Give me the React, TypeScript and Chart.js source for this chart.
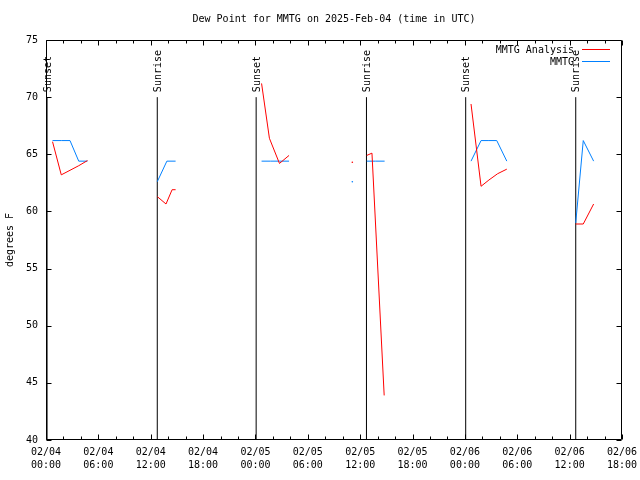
import React, { useEffect, useRef } from 'react';
import { Chart, registerables } from 'chart.js';

Chart.register(...registerables);

const FONT = "'DejaVu Sans Mono', 'Liberation Mono', monospace";

// ---- text ----
const chartTitle = 'Dew Point for MMTG on 2025-Feb-04 (time in UTC)';
const yAxisTitle = 'degrees F';

// ---- axes (hours since 02/04 00:00 UTC) ----
const yMin = 40;
const yMax = 75;
const yStep = 5;
const xMinHours = 0;
const xMaxHours = 66;
const xMajorStep = 6;
const xMinorStep = 2;
const xTickDates = ['02/04', '02/04', '02/04', '02/04', '02/05', '02/05', '02/05', '02/05', '02/06', '02/06', '02/06', '02/06'];
const xTickTimes = ['00:00', '06:00', '12:00', '18:00', '00:00', '06:00', '12:00', '18:00', '00:00', '06:00', '12:00', '18:00'];

// ---- series (null = gap) ----
const analysisLabel = 'MMTG Analysis';
const analysisHours = [0.75, 1.75, 2.75, 3.75, 4.75, null, 12.75, 13.75, 14.45, 14.85, null, 24.7, 25.6, 26.75, 27.85, null, 35.1, null, 36.75, 37.35, 38.75, null, 48.7, 49.85, 50.75, 51.75, 52.8, null, 60.7, 61.56, 62.75];
const analysisDewF = [66.1, 63.2, 63.6, 64.0, 64.45, null, 61.3, 60.65, 61.9, 61.9, null, 71.2, 66.4, 64.2, 64.9, null, 64.3, null, 64.9, 65.1, 43.9, null, 69.4, 62.2, 62.75, 63.3, 63.7, null, 58.9, 58.9, 60.65];

const obsLabel = 'MMTG';
const obsHours = [0.75, 1.75, 2.75, 3.75, 4.75, null, 12.75, 13.85, 14.85, null, 24.7, 25.75, 26.75, 27.85, null, 35.1, null, 36.75, 37.75, 38.8, null, 48.7, 49.85, 50.75, 51.65, 52.8, null, 60.7, 61.56, 62.75];
const obsDewF = [66.2, 66.2, 66.2, 64.4, 64.4, null, 62.6, 64.4, 64.4, null, 64.4, 64.4, 64.4, 64.4, null, 62.6, null, 64.4, 64.4, 64.4, null, 64.4, 66.2, 66.2, 66.2, 64.4, null, 59.0, 66.2, 64.4];

// ---- sunrise / sunset markers ----
const sunHours = [0.12, 12.75, 24.08, 36.72, 48.09, 60.7];
const sunLabels = ['Sunset', 'Sunrise', 'Sunset', 'Sunrise', 'Sunset', 'Sunrise'];
const sunLineTop = 70;

const RED = '#ff0000';
const BLUE = '#0080ff';

function toPoints(hours: (number | null)[], values: (number | null)[]) {
  return hours.map((h, i) => {
    if (h === null || values[i] === null) {
      return { x: (hours[i - 1] as number) ?? 0, y: null };
    }
    return { x: h, y: values[i] };
  });
}

function isolatedRadius(values: (number | null)[]) {
  return values.map((v, i) => {
    if (v === null) return 0;
    const prev = i === 0 ? null : values[i - 1];
    const next = i === values.length - 1 ? null : values[i + 1];
    return prev === null && next === null ? 0.8 : 0;
  });
}

function sunPoints() {
  const pts: { x: number; y: number | null }[] = [];
  sunHours.forEach((t) => {
    pts.push({ x: t, y: yMin });
    pts.push({ x: t, y: sunLineTop });
    pts.push({ x: t, y: null });
  });
  return pts;
}

const framePlugin = {
  id: 'gnuplotFrame',
  afterDatasetsDraw(chart: any) {
    const { ctx, chartArea } = chart;
    const xs = chart.scales.x;
    const ys = chart.scales.y;
    const L = Math.round(chartArea.left) + 0.5;
    const R = Math.round(chartArea.right) - 0.5;
    const T = Math.round(chartArea.top) + 0.5;
    const B = Math.round(chartArea.bottom) - 0.5;
    ctx.save();
    ctx.strokeStyle = '#000';
    ctx.lineWidth = 1;
    // border
    ctx.beginPath();
    ctx.rect(L, T, R - L, B - T);
    ctx.stroke();
    // ticks
    ctx.beginPath();
    for (let v = yMin; v <= yMax; v += yStep) {
      const y = Math.round(ys.getPixelForValue(v)) + 0.5;
      ctx.moveTo(L, y); ctx.lineTo(L + 5, y);
      ctx.moveTo(R, y); ctx.lineTo(R - 5, y);
    }
    for (let h = xMinHours; h <= xMaxHours; h += xMinorStep) {
      const x = Math.round(xs.getPixelForValue(h)) + 0.5;
      const len = h % xMajorStep === 0 ? 5 : 3;
      ctx.moveTo(x, B); ctx.lineTo(x, B - len);
      ctx.moveTo(x, T); ctx.lineTo(x, T + len);
    }
    ctx.stroke();

    ctx.fillStyle = '#000';
    ctx.font = `10px ${FONT}`;
    // sun labels
    sunHours.forEach((t, i) => {
      const x = xs.getPixelForValue(t) + 1;
      const y = ys.getPixelForValue(sunLineTop) - 5;
      ctx.save();
      ctx.translate(x, y);
      ctx.rotate(-Math.PI / 2);
      ctx.textAlign = 'left';
      ctx.textBaseline = 'middle';
      ctx.fillText(sunLabels[i], 0, 0);
      ctx.restore();
    });

    // legend
    const entries = [
      { label: analysisLabel, color: RED },
      { label: obsLabel, color: BLUE },
    ];
    entries.forEach((e, i) => {
      const y = chartArea.top + 10 + i * 12.5;
      ctx.fillStyle = '#000';
      ctx.textAlign = 'right';
      ctx.textBaseline = 'middle';
      ctx.fillText(e.label, chartArea.right - 48, y);
      ctx.fillStyle = e.color;
      ctx.fillRect(Math.round(chartArea.right - 40), Math.floor(y) - 1, 28, 1);
    });

    // title
    ctx.fillStyle = '#000';
    ctx.textAlign = 'center';
    ctx.textBaseline = 'middle';
    ctx.fillText(chartTitle, (chartArea.left + chartArea.right) / 2, 19);
    ctx.restore();
  },
};

export default function App() {
  const canvasRef = useRef<HTMLCanvasElement | null>(null);

  useEffect(() => {
    if (!canvasRef.current) return;
    const tickFont = { family: FONT, size: 10 };
    const chart = new Chart(canvasRef.current, {
      type: 'line',
      data: {
        datasets: [
          {
            label: analysisLabel,
            data: toPoints(analysisHours, analysisDewF) as any,
            borderColor: RED,
            backgroundColor: RED,
            borderWidth: 1,
            pointRadius: isolatedRadius(analysisDewF),
            pointBorderWidth: 0,
            tension: 0,
            spanGaps: false,
            order: 1,
          },
          {
            label: obsLabel,
            data: toPoints(obsHours, obsDewF) as any,
            borderColor: BLUE,
            backgroundColor: BLUE,
            borderWidth: 1,
            pointRadius: isolatedRadius(obsDewF),
            pointBorderWidth: 0,
            tension: 0,
            spanGaps: false,
            order: 2,
          },
          {
            label: 'sun',
            data: sunPoints() as any,
            borderColor: '#000',
            borderWidth: 1,
            pointRadius: 0,
            spanGaps: false,
            order: 5,
          },
        ],
      },
      options: {
        animation: false,
        responsive: false,
        events: [],
        layout: { padding: { top: 40, right: 18, left: 0, bottom: 0 } },
        plugins: {
          legend: { display: false },
          tooltip: { enabled: false },
          title: { display: false },
        },
        scales: {
          x: {
            type: 'linear',
            min: xMinHours,
            max: xMaxHours,
            afterBuildTicks: (s: any) => {
              s.ticks = xTickDates.map((_, i) => ({ value: xMinHours + i * xMajorStep }));
            },
            afterFit: (s: any) => {
              s.height = 40;
              s.paddingLeft = 0;
              s.paddingRight = 0;
            },
            ticks: {
              autoSkip: false,
              maxRotation: 0,
              minRotation: 0,
              padding: 6,
              color: '#000',
              font: { ...tickFont, lineHeight: 1.3 },
              callback: (v: any) => {
                const i = Math.round((Number(v) - xMinHours) / xMajorStep);
                return [xTickDates[i], xTickTimes[i]];
              },
            },
            grid: { display: false, drawTicks: false },
            border: { display: false },
          },
          y: {
            type: 'linear',
            min: yMin,
            max: yMax,
            afterFit: (s: any) => {
              s.width = 46;
              s.paddingTop = 0;
              s.paddingBottom = 0;
            },
            ticks: { stepSize: yStep, padding: 8, color: '#000', font: tickFont },
            grid: { display: false, drawTicks: false },
            border: { display: false },
            title: {
              display: true,
              text: yAxisTitle,
              color: '#000',
              font: tickFont,
              padding: { top: 4, bottom: 0 },
            },
          },
        },
      },
      plugins: [framePlugin],
    } as any);
    return () => chart.destroy();
  }, []);

  return (
    <div style={{ position: 'absolute', left: 0, top: 0, width: 640, height: 480, background: '#fff' }}>
      <canvas ref={canvasRef} width={640} height={480} style={{ display: 'block' }} />
    </div>
  );
}
